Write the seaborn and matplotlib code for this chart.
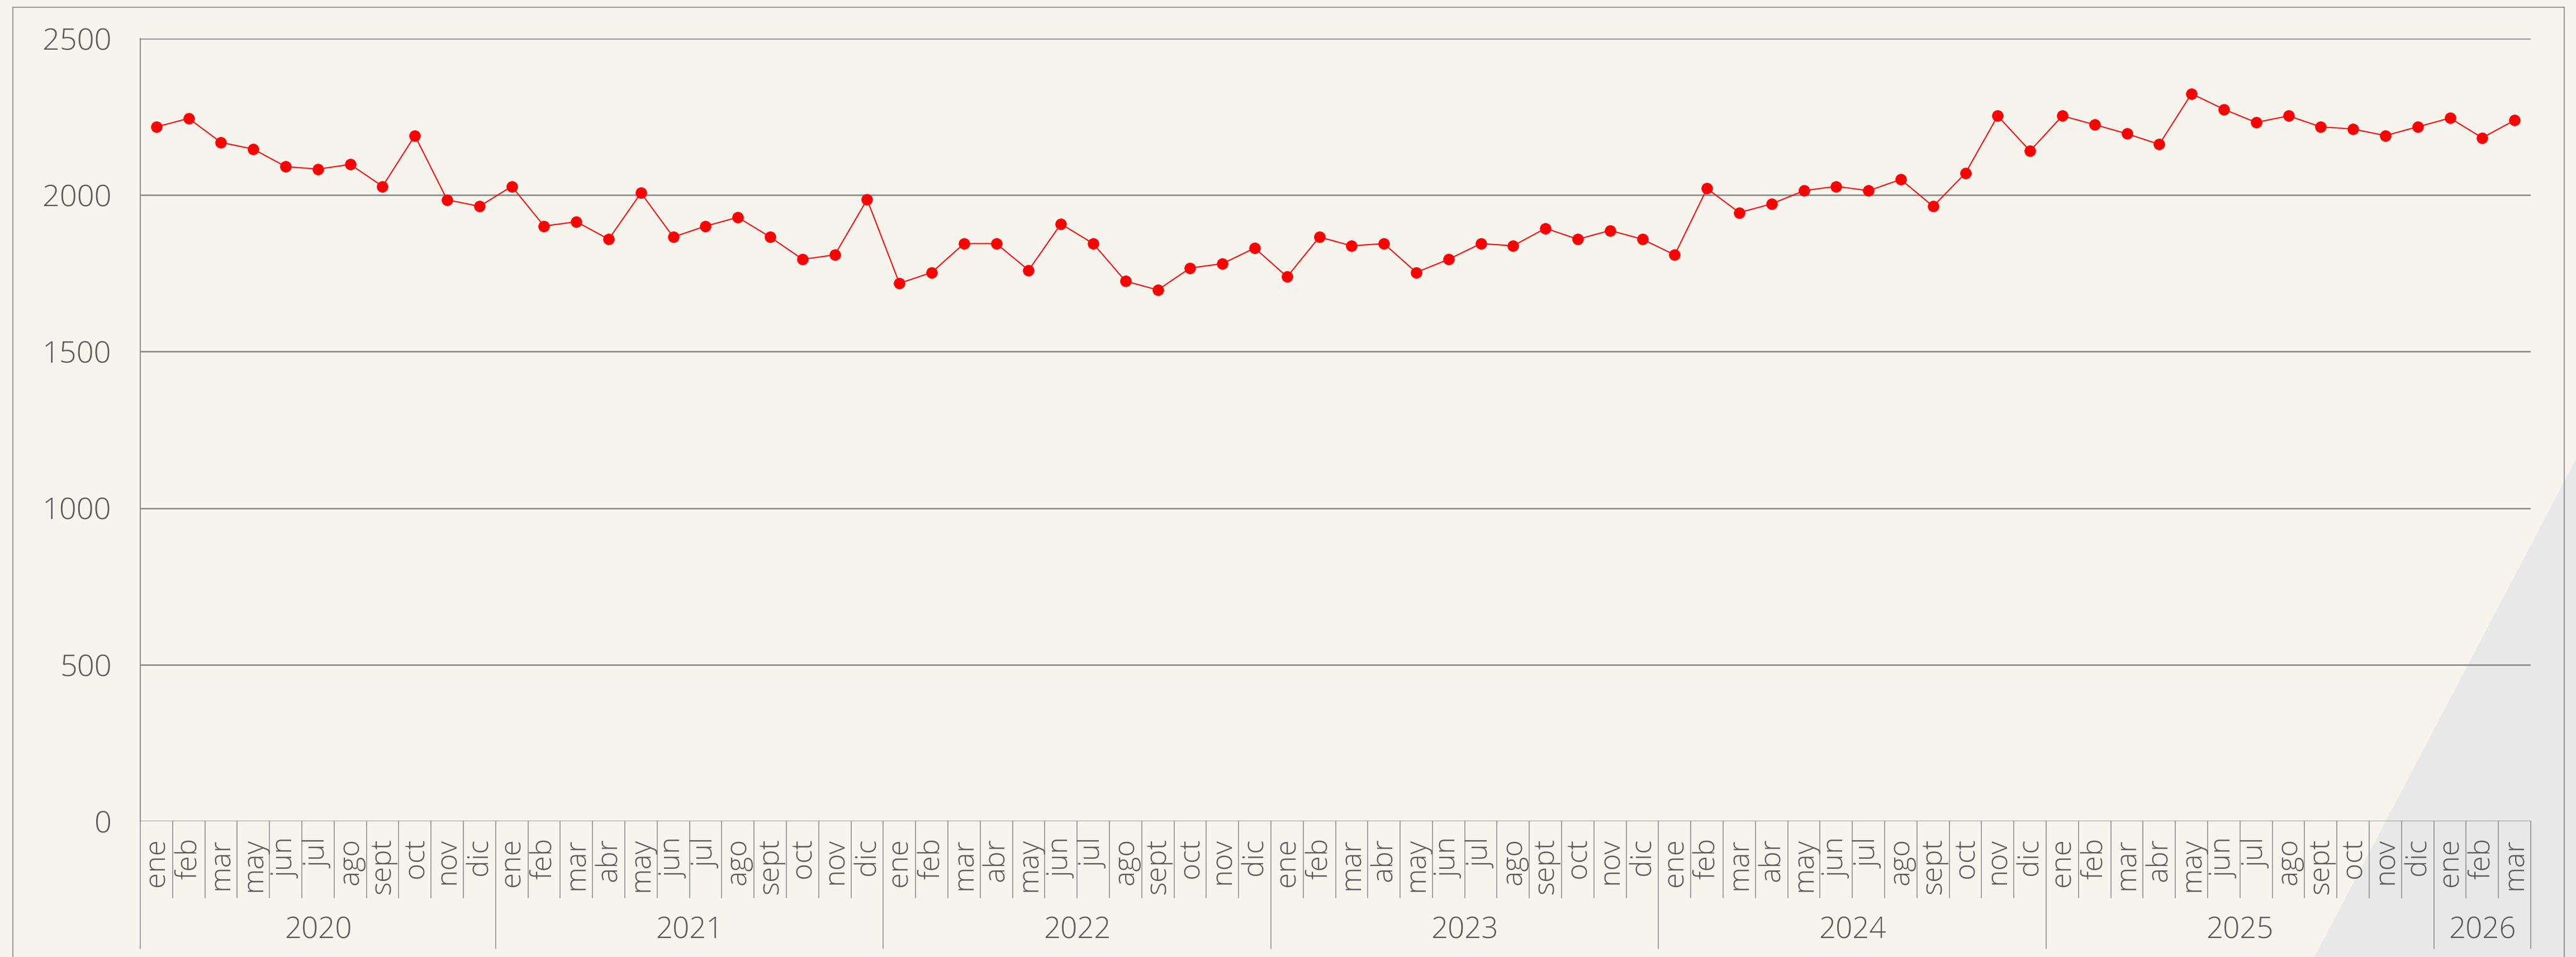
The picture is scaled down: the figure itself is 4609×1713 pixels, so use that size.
import numpy as np
import pandas as pd
import seaborn as sns
import matplotlib
matplotlib.use('Agg')
import matplotlib.pyplot as plt
from matplotlib.patches import Polygon, Rectangle
import matplotlib.transforms as mtransforms

sns.set_theme(style="white")
plt.rcParams['font.family'] = ['Open Sans', 'DejaVu Sans']

# data
years = ['2020', '2021', '2022', '2023', '2024', '2025', '2026']
months_2020 = ['ene', 'feb', 'mar', 'may', 'jun', 'jul', 'ago', 'sept', 'oct', 'nov', 'dic']
months_full = ['ene', 'feb', 'mar', 'abr', 'may', 'jun', 'jul', 'ago', 'sept', 'oct', 'nov', 'dic']
months_2026 = ['ene', 'feb', 'mar']

values_2020 = [2218, 2245, 2168, 2147, 2091, 2083, 2098, 2028, 2190, 1985, 1964]
values_2021 = [2028, 1901, 1915, 1859, 2007, 1866, 1901, 1929, 1866, 1795, 1809, 1986]
values_2022 = [1718, 1753, 1845, 1845, 1760, 1908, 1845, 1725, 1697, 1767, 1781, 1831]
values_2023 = [1739, 1866, 1838, 1845, 1753, 1795, 1845, 1838, 1894, 1859, 1887, 1859]
values_2024 = [1809, 2021, 1944, 1972, 2014, 2028, 2014, 2050, 1964, 2070, 2253, 2141]
values_2025 = [2253, 2225, 2196, 2162, 2324, 2274, 2232, 2253, 2218, 2211, 2190, 2218]
values_2026 = [2246, 2183, 2239]

month_lists = [months_2020] + [months_full] * 5 + [months_2026]
value_lists = [values_2020, values_2021, values_2022, values_2023,
               values_2024, values_2025, values_2026]

rows = []
for yr, ms, vs in zip(years, month_lists, value_lists):
    for m, v in zip(ms, vs):
        rows.append({"year": yr, "month": m, "value": v})
df = pd.DataFrame(rows)
df["pos"] = np.arange(len(df))

bg = "#f7f4ee"
grid_c = "#8e8e8e"
text_c = "#595959"

W, H = 4609, 1713
fig = plt.figure(figsize=(W / 100, H / 100), dpi=100, facecolor=bg)

# decorative grey corner
tri = Polygon([(4141 / W, 0), (1, 1 - 822 / H), (1, 0)], closed=True,
              transform=fig.transFigure, facecolor="#e8e8e8", edgecolor="none", zorder=-5)
fig.add_artist(tri)
# outer frame
frame = Rectangle((23 / W, -0.05), (4588 - 23) / W, 1 - 13 / H + 0.05, transform=fig.transFigure,
                  facecolor="none", edgecolor="#9a9a9a", linewidth=1.6, zorder=-4)
fig.add_artist(frame)

ax = fig.add_axes([251 / W, 1 - 1470 / H, (4528 - 251) / W, (1470 - 69) / H])
ax.set_facecolor("none")

sns.lineplot(data=df, x="pos", y="value", ax=ax, color="#ff0000", linewidth=1.5,
             marker="o", markersize=14, markeredgecolor="#ff0000", zorder=5)

n = len(df)
ax.set_xlim(-0.5, n - 0.5)
ax.set_ylim(0, 2500)
ax.set_yticks([0, 500, 1000, 1500, 2000, 2500])
ax.set_yticklabels(["0", "500", "1000", "1500", "2000", "2500"])
ax.yaxis.grid(True, color=grid_c, linewidth=2)
ax.set_axisbelow(True)
ax.tick_params(axis="y", length=11, width=1.5, color=grid_c, pad=26,
               labelsize=39, labelcolor=text_c)
for lbl in ax.get_yticklabels():
    lbl.set_fontweight("light")
ax.set_xticks([])
ax.set_xlabel("")
ax.set_ylabel("")
for side in ["top", "right", "bottom"]:
    ax.spines[side].set_visible(False)
ax.spines["left"].set_color(grid_c)
ax.spines["left"].set_linewidth(1.5)

# hierarchical category axis
trans = mtransforms.blended_transform_factory(ax.transData, ax.transAxes)
axh = 1470 - 69
month_bot = -(1607 - 1470) / axh
year_bot = -(1698 - 1470) / axh
month_top = -(1500 - 1470) / axh
year_y = -(1666 - 1470) / axh

year_starts = df.groupby("year", sort=False)["pos"].min().tolist()
for i in range(n + 1):
    x = i - 0.5
    long_line = (i in year_starts) or i == n
    ax.plot([x, x], [0, year_bot if long_line else month_bot], transform=trans,
            color=grid_c, linewidth=1.2, clip_on=False)

for _, r in df.iterrows():
    ax.text(r["pos"], month_top, r["month"], transform=trans, rotation=90,
            ha="center", va="top", fontsize=37, color=text_c, fontweight="light")

for yr, grp in df.groupby("year", sort=False):
    xc = (grp["pos"].min() + grp["pos"].max()) / 2
    ax.text(xc, year_y, yr, transform=trans, ha="center", va="center",
            fontsize=38, color=text_c, fontweight="light")

fig.savefig("out.png", dpi=100, facecolor=bg)
